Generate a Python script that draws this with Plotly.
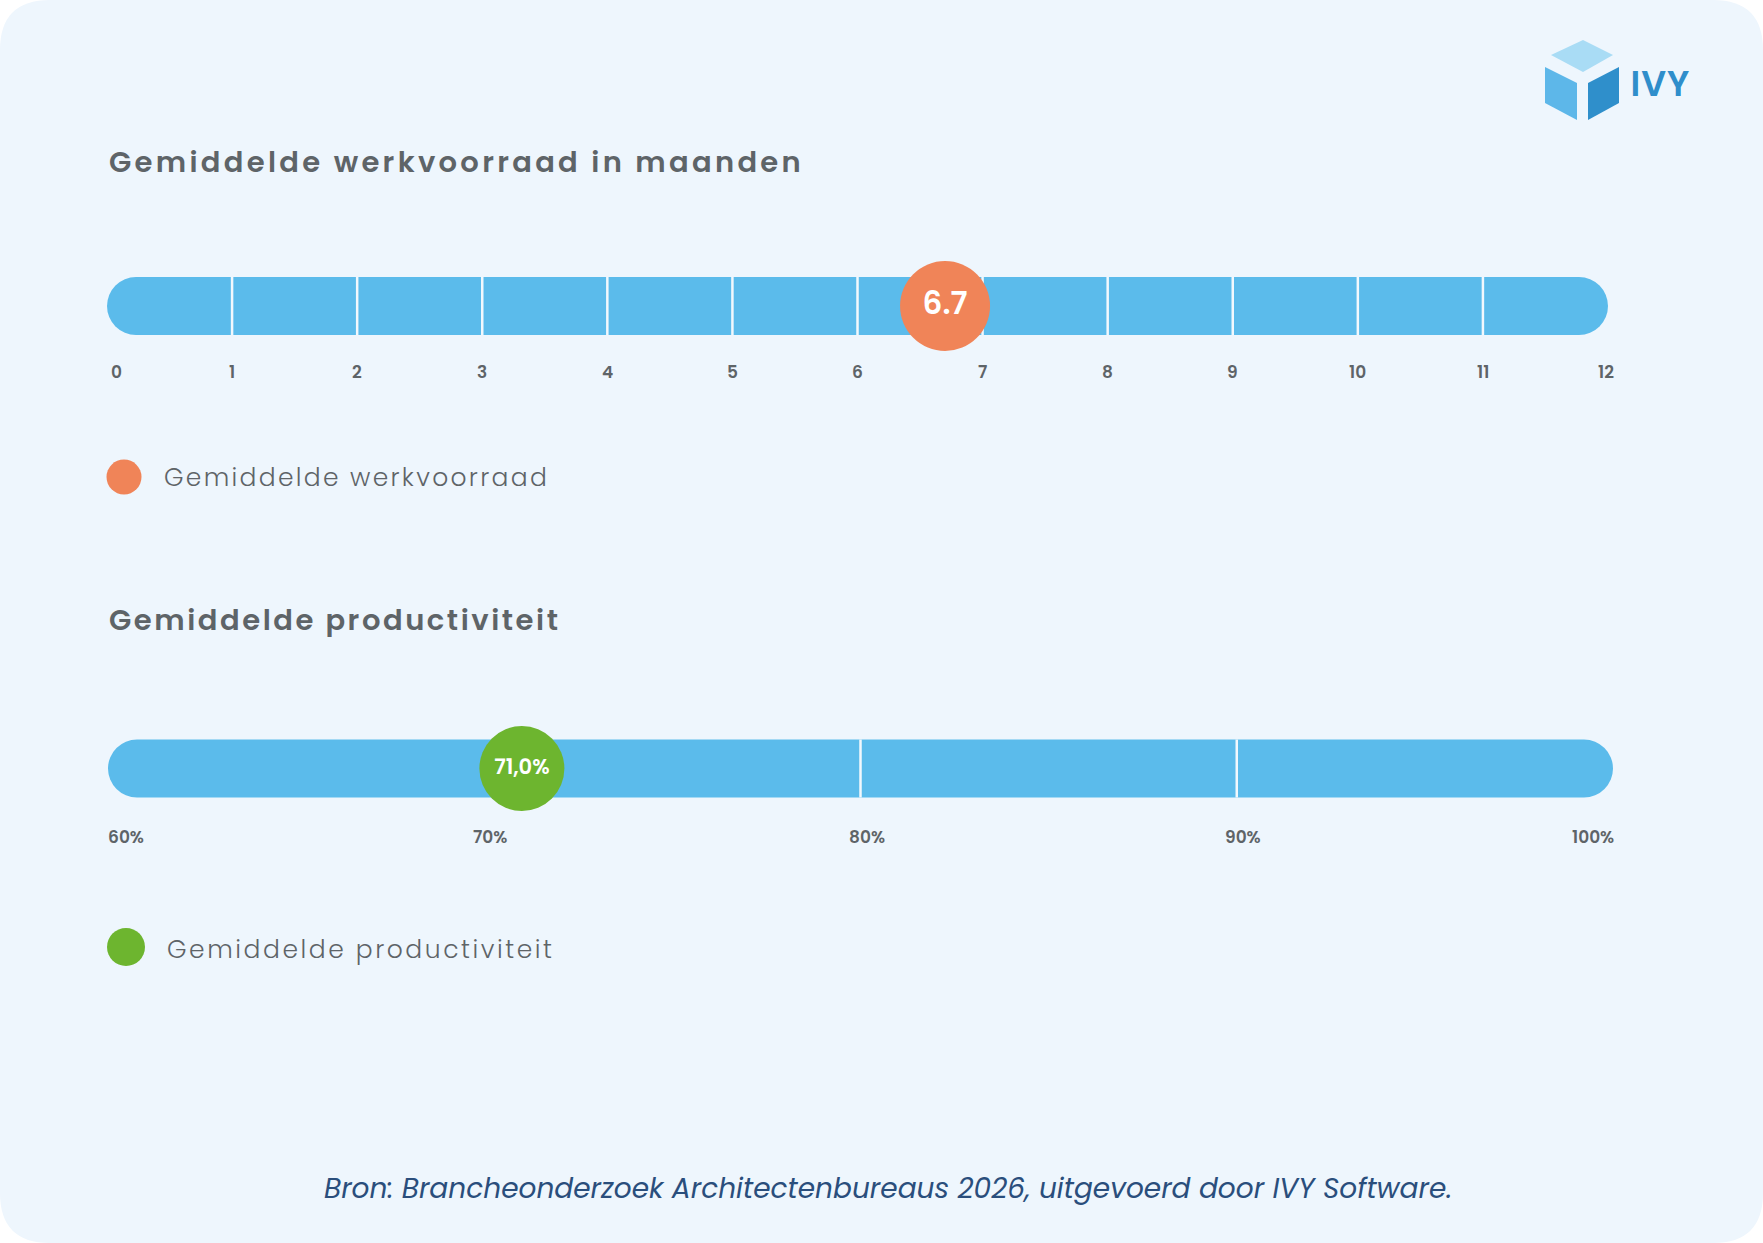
import json
import plotly.graph_objects as go

# ---------------- data ----------------
werk_ticks = [0, 1, 2, 3, 4, 5, 6, 7, 8, 9, 10, 11, 12]
werk_tick_labels = ["0", "1", "2", "3", "4", "5", "6", "7", "8", "9", "10", "11", "12"]
werk_dividers = [1, 2, 3, 4, 5, 6, 7, 8, 9, 10, 11]
werk_value = 6.7
werk_value_label = "6.7"

prod_ticks = [60, 70, 80, 90, 100]
prod_tick_labels = ["60%", "70%", "80%", "90%", "100%"]
prod_dividers = [80, 90]
prod_value = 71.0
prod_value_label = "71,0%"

title_werk = "Gemiddelde werkvoorraad in maanden"
title_prod = "Gemiddelde productiviteit"
legend_werk = "Gemiddelde werkvoorraad"
legend_prod = "Gemiddelde productiviteit"
source_text = "Bron: Brancheonderzoek Architectenbureaus 2026, uitgevoerd door IVY Software."
logo_text = "IVY"

# ---------------- style ----------------
W, H = 1763, 1243
BG = "#EEF6FD"
BAR = "#5BBBEB"
ORANGE = "#F08458"
GREEN = "#6DB52F"
GREY = "#5E6468"
NAVY = "#2A4E7C"
BAR_T = 58
FONT = "Poppins, Open Sans, sans-serif"


def fx(px):
    return px / W


def fy(py):
    return 1 - py / H


def band(center, half=50):
    return [fy(center + half), fy(center - half)]


fig = go.Figure()


def add_scale(ticks, dividers, value, value_label, color, size, fsize, xa, ya):
    lo, hi = ticks[0], ticks[-1]
    fig.add_trace(go.Bar(
        y=[0], x=[hi - lo], base=[lo], orientation="h",
        width=BAR_T, marker=dict(color=BAR, cornerradius="50%", line=dict(width=0)),
        hoverinfo="skip", showlegend=False, xaxis=xa, yaxis=ya))
    dx, dy = [], []
    for t in dividers:
        dx += [t, t, None]
        dy += [-BAR_T / 2, BAR_T / 2, None]
    fig.add_trace(go.Scatter(
        x=dx, y=dy, mode="lines", line=dict(color="#F2F8FD", width=2.5),
        hoverinfo="skip", showlegend=False, xaxis=xa, yaxis=ya))
    fig.add_trace(go.Scatter(
        x=[value], y=[0], mode="markers+text", text=[value_label],
        textposition="middle center",
        textfont=dict(family=FONT, size=fsize, color="white", weight=600),
        marker=dict(size=size, color=color, line=dict(width=0)),
        hoverinfo="skip", showlegend=False, xaxis=xa, yaxis=ya))


add_scale(werk_ticks, werk_dividers, werk_value, werk_value_label, ORANGE, 90, 31, "x", "y")
add_scale(prod_ticks, prod_dividers, prod_value, prod_value_label, GREEN, 85, 21, "x2", "y2")

annotations = []
tick_font = dict(family=FONT, size=17, color=GREY, weight=600)
for i, (t, lab) in enumerate(zip(werk_ticks, werk_tick_labels)):
    annotations.append(dict(x=t, xref="x", y=fy(372), yref="paper", text=lab,
                            showarrow=False, font=tick_font,
                            xanchor="left" if i == 0 else "center", yanchor="middle",
                            xshift=2 if i == 0 else (-2 if i == len(werk_ticks) - 1 else 0)))
n = len(prod_ticks)
for i, (t, lab) in enumerate(zip(prod_ticks, prod_tick_labels)):
    annotations.append(dict(x=t, xref="x2", y=fy(837), yref="paper", text=lab,
                            showarrow=False, font=tick_font,
                            xanchor="left" if i == 0 else ("right" if i == n - 1 else "center"),
                            yanchor="middle",
                            xshift=-2 if i == 0 else (3 if i == n - 1 else 6)))

title_font = dict(family=FONT, size=29, color=GREY, weight=600)
annotations.append(dict(x=fx(107), y=fy(162), xref="paper", yref="paper", text=title_werk,
                        showarrow=False, font=title_font, xanchor="left", yanchor="middle",
                        align="left"))
annotations.append(dict(x=fx(107), y=fy(620), xref="paper", yref="paper", text=title_prod,
                        showarrow=False, font=title_font, xanchor="left", yanchor="middle",
                        align="left"))

leg_font = dict(family=FONT, size=25, color=GREY, weight=300)
annotations.append(dict(x=fx(162), y=fy(478), xref="paper", yref="paper", text=legend_werk,
                        showarrow=False, font=leg_font, xanchor="left", yanchor="middle",
                        align="left"))
annotations.append(dict(x=fx(165), y=fy(949), xref="paper", yref="paper", text=legend_prod,
                        showarrow=False, font=leg_font, xanchor="left", yanchor="middle",
                        align="left"))

annotations.append(dict(x=fx(888), y=fy(1188), xref="paper", yref="paper", text=source_text,
                        showarrow=False,
                        font=dict(family=FONT, size=28, color=NAVY, style="italic", weight=400),
                        xanchor="center", yanchor="middle"))
annotations.append(dict(x=fx(1630), y=fy(84), xref="paper", yref="paper", text=logo_text,
                        showarrow=False,
                        font=dict(family=FONT, size=35, color="#2F8ECB", weight=600),
                        xanchor="left", yanchor="middle"))

# ---------------- decorative shapes ----------------
def path(points, close=True):
    s = "M " + " L ".join(f"{fx(x):.5f},{fy(y):.5f}" for x, y in points)
    return s + (" Z" if close else "")


R = 50
card = (f"M {fx(R)},{fy(0)} L {fx(W - R)},{fy(0)} Q {fx(W)},{fy(0)} {fx(W)},{fy(R)} "
        f"L {fx(W)},{fy(H - R)} Q {fx(W)},{fy(H)} {fx(W - R)},{fy(H)} "
        f"L {fx(R)},{fy(H)} Q {fx(0)},{fy(H)} {fx(0)},{fy(H - R)} "
        f"L {fx(0)},{fy(R)} Q {fx(0)},{fy(0)} {fx(R)},{fy(0)} Z")

shapes = [
    dict(type="path", xref="paper", yref="paper", path=card, fillcolor=BG,
         line=dict(width=0), layer="below"),
    dict(type="path", xref="paper", yref="paper",
         path=path([(1583, 40), (1613, 55), (1583, 72), (1551, 55)]),
         fillcolor="#A9DCF5", line=dict(width=0)),
    dict(type="path", xref="paper", yref="paper",
         path=path([(1545, 67), (1577, 83), (1577, 120), (1545, 103)]),
         fillcolor="#5DB7E9", line=dict(width=0)),
    dict(type="path", xref="paper", yref="paper",
         path=path([(1588, 83), (1619, 67), (1619, 103), (1588, 120)]),
         fillcolor="#2F8FCB", line=dict(width=0)),
    dict(type="circle", xref="paper", yref="paper", xsizemode="pixel", ysizemode="pixel",
         xanchor=fx(124), yanchor=fy(477), x0=-17.5, x1=17.5, y0=-17.5, y1=17.5,
         fillcolor=ORANGE, line=dict(width=0)),
    dict(type="circle", xref="paper", yref="paper", xsizemode="pixel", ysizemode="pixel",
         xanchor=fx(126), yanchor=fy(947), x0=-19, x1=19, y0=-19, y1=19,
         fillcolor=GREEN, line=dict(width=0)),
]

hidden = dict(visible=False, showgrid=False, zeroline=False, fixedrange=True)
fig.update_layout(
    width=W, height=H, margin=dict(l=0, r=0, t=0, b=0),
    paper_bgcolor="white", plot_bgcolor="rgba(0,0,0,0)",
    barmode="overlay", showlegend=False,
    xaxis=dict(domain=[fx(107), fx(1608)], range=[werk_ticks[0], werk_ticks[-1]], anchor="y", **hidden),
    yaxis=dict(domain=band(306), range=[-50, 50], anchor="x", **hidden),
    xaxis2=dict(domain=[fx(108), fx(1613)], range=[prod_ticks[0], prod_ticks[-1]], anchor="y2", **hidden),
    yaxis2=dict(domain=band(768.5), range=[-50, 50], anchor="x2", **hidden),
    annotations=annotations, shapes=shapes,
)

spacing = {title_werk: 3.3, title_prod: 5.0, legend_werk: 2.3, legend_prod: 2.55, logo_text: 1.0}
post = (
    "document.body.style.margin='0';document.body.style.overflow='hidden';"
    "var sp=" + json.dumps(spacing) + ";"
    "document.querySelectorAll('text.annotation-text').forEach(function(t){"
    "var s=sp[t.textContent];if(s!==undefined){t.style.letterSpacing=s+'px';}});"
)
fig.write_html("out.html", config={"displayModeBar": False, "staticPlot": True},
               post_script=post)
